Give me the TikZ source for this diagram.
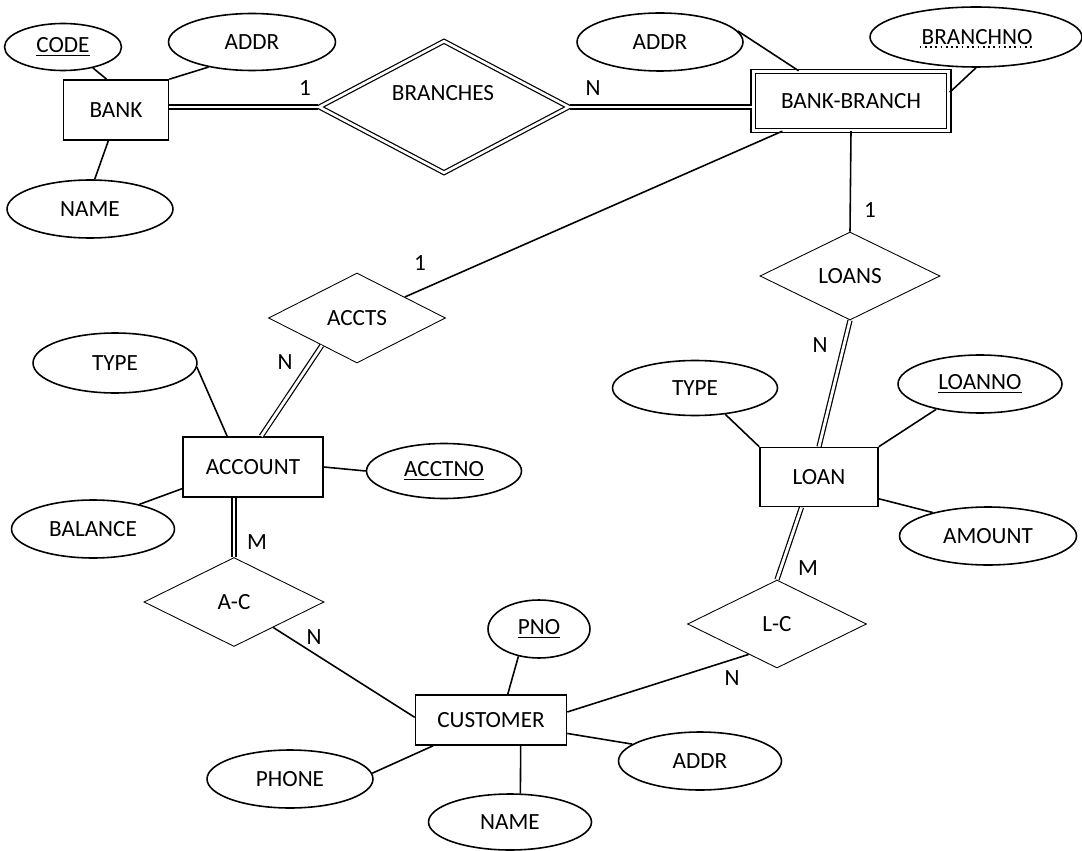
\documentclass[tikz,border=0pt]{standalone}
\usepackage{fontspec}
\setmainfont{Carlito}
\usetikzlibrary{shapes.geometric}
\tikzset{
x=0.02cm, y=-0.02cm, % one unit is one pixel of the scan
every node/.style={font=\fontsize{13.2}{15}\selectfont}, % same text size everywhere
entity/.style={rectangle, draw, line width=0.9pt, inner sep=0pt}, % strong entity
weak/.style={entity, double, double distance=1.7pt, line width=0.8pt}, % weak entity
attr/.style={ellipse, draw, line width=0.9pt, inner sep=0pt, minimum width=3.3cm, minimum height=1.16cm}, % attribute
rel/.style={diamond, draw, line width=0.5pt, inner sep=0pt, minimum width=3.6cm, minimum height=1.76cm}, % relationship
link/.style={line width=0.9pt}, % partial participation
total/.style={double, double distance=1.6pt, line width=0.7pt}, % total participation
card/.style={inner sep=1pt}, % cardinality
}
\begin{document}
\begin{tikzpicture}
        \useasboundingbox (0,0) rectangle (1082,851);

        % entities
        \node[entity, minimum width=2.1cm, minimum height=1.2cm] (BANK) at (116,110) {BANK};
        \node[weak, minimum width=3.92cm, minimum height=1.18cm] (BB) at (851,101) {BANK-BRANCH};
        \node[entity, minimum width=2.8cm, minimum height=1.2cm] (ACCOUNT) at (253,467) {ACCOUNT};
        \node[entity, minimum width=2.36cm, minimum height=1.18cm] (LOAN) at (819,477) {LOAN};
        \node[entity, minimum width=3.02cm, minimum height=1.0cm] (CUSTOMER) at (491,720) {CUSTOMER};

        % relationships
        \node[rel, double, double distance=1.5pt, line width=0.7pt, minimum width=5cm, minimum height=2.64cm] (BRANCHES) at (444,107) {};
        \node (brtext) at (443,93) {BRANCHES};
        \node[rel, minimum width=3.54cm, minimum height=1.8cm] (ACCTS) at (357,318) {ACCTS};
        \node[rel] (LOANS) at (850,276) {LOANS};
        \node[rel, minimum height=1.78cm] (AC) at (234,602) {A-C};
        \node[rel, minimum width=3.58cm] (LC) at (777,624) {L-C};

        % attributes
        \node[attr, minimum width=2.34cm, minimum height=0.94cm] (CODE) at (63,47) {\underline{CODE}};
        \node[attr, minimum width=3.34cm, minimum height=1.14cm] (ADDRbank) at (252,42) {ADDR};
        \node[attr, minimum width=3.32cm] (NAMEbank) at (90,209) {NAME};
        \node[attr, minimum width=3.32cm] (ADDRbb) at (660,42) {ADDR};
        \node[attr, minimum width=4.24cm, minimum height=1.2cm] (BRANCHNO) at (976,37) {};
        \node[inner sep=1pt] (bnotext) at (977,37) {BRANCHNO};
        \draw[dotted, line width=1pt] (bnotext.south west) -- (bnotext.south east);
        \node[attr, minimum width=3.28cm, minimum height=1.2cm] (TYPEacct) at (115,363) {TYPE};
        \node[attr, minimum width=3.1cm, minimum height=1.1cm] (ACCTNO) at (444,471) {\underline{ACCTNO}};
        \node[attr, minimum width=3.26cm] (BALANCE) at (93,529) {BALANCE};
        \node[attr, minimum height=1.1cm] (TYPEloan) at (695,388) {TYPE};
        \node[attr, minimum width=3.28cm] (LOANNO) at (980,384) {\underline{LOANNO}};
        \node[attr, minimum width=3.54cm] (AMOUNT) at (988,536) {AMOUNT};
        \node[attr, minimum width=2.04cm] (PNO) at (539,629) {\underline{PNO}};
        \node[attr, minimum width=3.32cm] (PHONE) at (290,779) {PHONE};
        \node[attr, minimum width=3.26cm, minimum height=1.12cm] (NAMEcust) at (510,822) {NAME};
        \node[attr, minimum width=3.26cm] (ADDRcust) at (700,761) {ADDR};

        % attribute links
        \draw[link] (CODE.-35) -- (BANK.107);
        \draw[link] (ADDRbank.210) -- (BANK.north east);
        \draw[link] (NAMEbank.81) -- (BANK.256);
        \draw[link] (ADDRbb.8) -- (BB.150);
        \draw[link] (BRANCHNO.south) -- (BB.5);
        \draw[link] (TYPEacct.-3) -- (ACCOUNT.130);
        \draw[link] (ACCTNO.west) -- (ACCOUNT.east);
        \draw[link] (BALANCE.28) -- (ACCOUNT.197);
        \draw[link] (TYPEloan.-41) -- (LOAN.north west);
        \draw[link] (LOANNO.210) -- (LOAN.north east);
        \draw[link] (AMOUNT.157) -- (LOAN.-20);
        \draw[link] (PNO.233) -- (CUSTOMER.57);
        \draw[link] (NAMEcust.70) -- (CUSTOMER.-41);
        \draw[link] (PHONE.4) -- (CUSTOMER.204);
        \draw[link] (ADDRcust.166) -- (CUSTOMER.-10);

        % relationship links
        \draw[total] (BRANCHES.west -| BANK.east) -- (BRANCHES.west);
        \draw[total] (BRANCHES.east) -- (BRANCHES.east -| BB.west);
        \draw[link] (BB) -- (ACCTS);
        \draw[link] (BB.south) -- (LOANS.north);
        \draw[total] (LOANS.south) -- (LOAN.north);
        \draw[total] (ACCTS.218) -- (ACCOUNT.75);
        \draw[total] (AC.north |- ACCOUNT.south) -- (AC.north);
        \draw[total] (LOAN.240) -- (LC.north);
        \draw[link] (AC.-33) -- (CUSTOMER.178);
        \draw[link] (LC.227) -- (CUSTOMER.6);

        % cardinalities
        \node[card] (c1) at (305,88) {1};
        \node[card] (c2) at (593,88) {N};
        \node[card] (c3) at (420,263) {1};
        \node[card] (c4) at (870,210) {1};
        \node[card] (c5) at (820,345) {N};
        \node[card] (c6) at (285,362) {N};
        \node[card] (c7) at (257,542) {M};
        \node[card] (c8) at (808,568) {M};
        \node[card] (c9) at (314,637) {N};
        \node[card] (c10) at (732,678) {N};
\end{tikzpicture}
\end{document}
